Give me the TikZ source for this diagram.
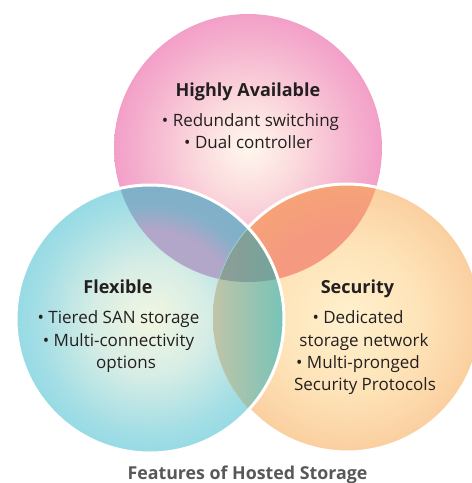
\documentclass[tikz,border=0pt]{standalone}
\usepackage{fontspec}
\setmainfont{Open Sans}
\definecolor{txt}{RGB}{35,31,32}
\definecolor{ttl}{RGB}{88,88,90}
\definecolor{triL}{RGB}{145,156,150}
\definecolor{triR}{RGB}{112,165,155}
\definecolor{coL}{RGB}{192,196,168}
\definecolor{coR}{RGB}{118,196,184}
\definecolor{ocline}{RGB}{140,214,226}
\pgfdeclareradialshading{pinksh}{\pgfpoint{0bp}{0bp}}{rgb(0bp)=(1,0.97,0.93); rgb(8.8bp)=(0.985,0.86,0.87); rgb(19.5bp)=(0.96,0.70,0.81); rgb(28.3bp)=(0.95,0.58,0.77); rgb(35.4bp)=(0.94,0.47,0.72); rgb(50bp)=(0.94,0.47,0.72)}
\pgfdeclareradialshading{cyansh}{\pgfpoint{0bp}{0bp}}{rgb(0bp)=(0.95,0.965,0.88); rgb(10.6bp)=(0.84,0.93,0.90); rgb(21.2bp)=(0.64,0.87,0.90); rgb(30bp)=(0.52,0.84,0.89); rgb(35.4bp)=(0.47,0.835,0.89); rgb(50bp)=(0.47,0.835,0.89)}
\pgfdeclareradialshading{orangesh}{\pgfpoint{0bp}{0bp}}{rgb(0bp)=(1,0.945,0.81); rgb(14.1bp)=(0.995,0.89,0.72); rgb(26.5bp)=(0.98,0.80,0.61); rgb(35.4bp)=(0.97,0.74,0.54); rgb(50bp)=(0.97,0.74,0.54)}
\pgfdeclareradialshading{pcsh}{\pgfpoint{0bp}{0bp}}{rgb(0bp)=(0.70,0.65,0.79); rgb(16.6bp)=(0.70,0.65,0.79); rgb(21bp)=(0.52,0.69,0.79); rgb(35.4bp)=(0.44,0.70,0.78); rgb(50bp)=(0.44,0.70,0.78)}
\pgfdeclareradialshading{posh}{\pgfpoint{0bp}{0bp}}{rgb(0bp)=(0.96,0.60,0.50); rgb(16.6bp)=(0.96,0.60,0.50); rgb(25bp)=(0.965,0.64,0.47); rgb(35.4bp)=(0.965,0.67,0.45); rgb(50bp)=(0.965,0.67,0.45)}
\tikzset{
  body/.style={anchor=base, text=txt, font=\fontsize{17}{20}\selectfont, inner sep=0pt},
  head/.style={anchor=base, text=txt, font=\fontsize{18}{21}\selectfont\bfseries, inner sep=0pt},
  ring/.style={draw=white, line width=3pt},
}
\newcommand{\circP}{(248,148) circle[radius=134]}
\newcommand{\circC}{(150,319) circle[radius=134]}
\newcommand{\circO}{(347,318) circle[radius=134]}
\begin{document}
\begin{tikzpicture}[x=1pt,y=-1pt]
\useasboundingbox (0,0) rectangle (472,483);
\clip (0,0) rectangle (472,483);
% base circles
\shade[shading=pinksh] \circP;
\shade[shading=cyansh] \circC;
\shade[shading=orangesh] \circO;
% pink & cyan
\begin{scope}
  \clip \circP; \clip \circC;
  \shade[shading=pcsh] \circC;
\end{scope}
% pink & orange
\begin{scope}
  \clip \circP; \clip \circO;
  \shade[shading=posh] \circO;
\end{scope}
% cyan & orange
\begin{scope}
  \clip \circC; \clip \circO;
  \shade[left color=coL, right color=coR] (213,226) rectangle (284,412);
\end{scope}
% all three
\begin{scope}
  \clip \circP; \clip \circC; \clip \circO;
  \shade[left color=triL, right color=triR] (213,226) rectangle (284,290);
  \draw[ocline, line width=1.6pt] \circO;
\end{scope}
% white outlines
\draw[ring] \circC;
\draw[ring] (347,318) ++(-137.5:134) arc[start angle=-137.5, end angle=137.5, radius=134];
% texts
\node[head] (ha) at (248,96) {Highly Available};
\node[body] (ha1) at (250.5,126) {• Redundant switching};
\node[body] (ha2) at (248.5,148) {• Dual controller};
\node[head] (fl) at (118,293) {Flexible};
\node[body] (fl1) at (118.5,323) {• Tiered SAN storage};
\node[body] (fl2) at (118.5,346) {• Multi-connectivity};
\node[body] (fl3) at (126,368) {options};
\node[head] (se) at (357.5,293) {Security};
\node[body] (se1) at (358,323) {• Dedicated};
\node[body] (se2) at (364,346) {storage network};
\node[body] (se3) at (358,368) {• Multi-pronged};
\node[body] (se4) at (365,390) {Security Protocols};
\node[anchor=base, text=ttl, font=\fontsize{17.8}{20}\selectfont\bfseries, inner sep=0pt] (title) at (247.5,479.5) {Features of Hosted Storage};
\end{tikzpicture}
\end{document}
